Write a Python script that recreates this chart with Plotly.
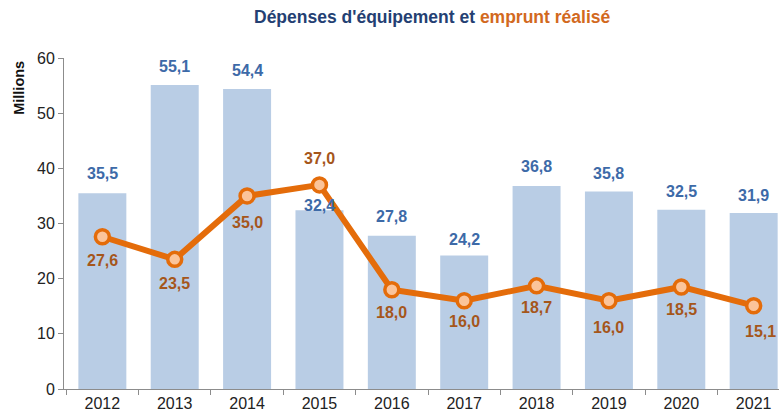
import plotly.graph_objects as go

years = ["2012", "2013", "2014", "2015", "2016", "2017", "2018", "2019", "2020", "2021"]
depenses = [35.5, 55.1, 54.4, 32.4, 27.8, 24.2, 36.8, 35.8, 32.5, 31.9]
emprunt = [27.6, 23.5, 35.0, 37.0, 18.0, 16.0, 18.7, 16.0, 18.5, 15.1]
y_ticks = [0, 10, 20, 30, 40, 50, 60]

# label offsets (pixels) - styling only
bar_label_shift = [20, 19, 18, 5, 19, 16, 19, 18, 18, 18]
line_label_shift = [-24, -24, -27, 26, -23, -21, -22, -27, -23, -26]
line_label_xshift = [0, 0, 0, 0, 0, 0, 0, 0, 0, 7]

def fmt(v):
    return f"{v:.1f}".replace(".", ",")

FONT = "Arial, Liberation Sans, sans-serif"
BAR_COLOR = "#b9cde5"
LINE_COLOR = "#e46c0a"
BAR_TXT = "#3d6aa8"
LINE_TXT = "#a5561b"

fig = go.Figure()
fig.add_trace(go.Bar(x=years, y=depenses, marker=dict(color=BAR_COLOR, line=dict(width=0)),
                     hoverinfo="x+y", showlegend=False))
fig.add_trace(go.Scatter(x=years, y=emprunt, mode="lines+markers",
                         line=dict(color=LINE_COLOR, width=6),
                         marker=dict(size=14, color="#fbc49a", line=dict(color=LINE_COLOR, width=3.5)),
                         showlegend=False))

annotations = []
for i, v in enumerate(depenses):
    annotations.append(dict(x=i, y=v, xref="x", yref="y", text=fmt(v), showarrow=False,
                            yanchor="middle", yshift=bar_label_shift[i],
                            font=dict(family=FONT, size=16, color=BAR_TXT, weight="bold")))
for i, v in enumerate(emprunt):
    annotations.append(dict(x=i, y=v, xref="x", yref="y", text=fmt(v), showarrow=False,
                            yanchor="middle", yshift=line_label_shift[i], xshift=line_label_xshift[i],
                            font=dict(family=FONT, size=16, color=LINE_TXT, weight="bold")))

annotations.append(dict(xref="paper", yref="paper", x=0.515, y=1, yshift=41, xanchor="center",
                        yanchor="middle", showarrow=False,
                        text="<b><span style='color:#243f73'>Dépenses d'équipement et </span>"
                             "<span style='color:#d2691e'>emprunt réalisé</span></b>",
                        font=dict(family=FONT, size=17.5)))
annotations.append(dict(xref="paper", yref="paper", x=0, xshift=-45, y=0.91, yanchor="middle",
                        xanchor="center", showarrow=False, textangle=-90, text="<b>Millions</b>",
                        font=dict(family=FONT, size=14.5, color="#111111")))

fig.update_layout(
    width=779, height=414,
    margin=dict(l=64, r=0, t=58, b=25),
    paper_bgcolor="white", plot_bgcolor="white",
    bargap=0.337,
    font=dict(family=FONT, size=16, color="#222222"),
    annotations=annotations,
    xaxis=dict(type="category", range=[-0.53, 9.35], showline=True, linecolor="#8c8c8c",
               linewidth=1, ticks="outside", tickson="boundaries", ticklen=5,
               tickcolor="#8c8c8c", showgrid=False, zeroline=False,
               tickfont=dict(family=FONT, size=16, color="#222222")),
    yaxis=dict(range=[0, 60], tickvals=y_ticks, showline=True, linecolor="#8c8c8c",
               linewidth=1, ticks="outside", ticklen=5, tickcolor="#8c8c8c",
               showgrid=False, zeroline=False,
               tickfont=dict(family=FONT, size=16, color="#222222")),
)

fig.write_html("out.html", config={"displayModeBar": False},
               post_script="document.body.style.margin='0';document.body.style.overflow='hidden';")
